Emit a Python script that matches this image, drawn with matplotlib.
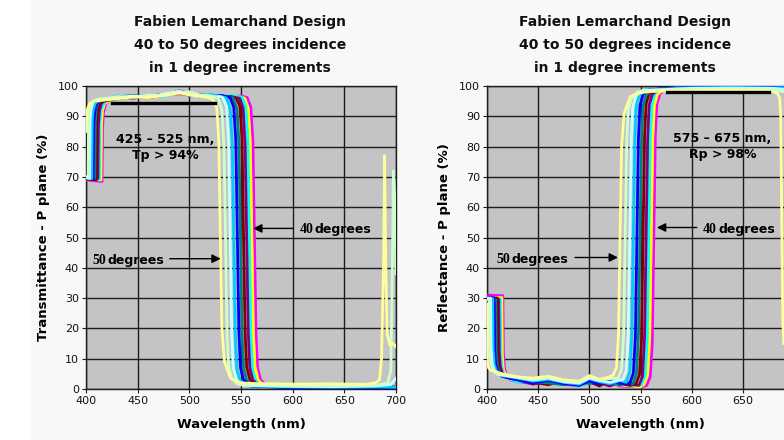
import matplotlib.pyplot as plt
from matplotlib.patches import Rectangle

# ----------------------------- data -----------------------------
angles = [40, 41, 42, 43, 44, 45, 46, 47, 48, 49, 50]
colors = ['#ff00ff', '#ffff00', '#00ffff', '#800080', '#800000', '#008080',
          '#0000ff', '#00ccff', '#ccffff', '#ccffcc', '#ffff99']

# transmittance, P plane (%)
t40_nm = [400, 415.5, 416, 417, 419, 423, 430, 445, 460, 475, 490, 500, 510, 520, 530, 540, 550, 556, 559.5, 561.5, 563, 564.5, 566, 569, 575, 600, 640, 680, 700]
t40 = [69.0, 68.5, 86.5, 91.5, 94.0, 95.3, 96.2, 96.6, 96.3, 97.0, 97.4, 97.2, 96.8, 96.5, 96.9, 96.4, 96.7, 96.2, 93.0, 82.0, 50.0, 18.0, 7.0, 3.0, 1.0, 0.6, 0.5, 0.6, 0.5]
t41_nm = [400, 414.5, 415, 416, 418, 422, 430, 445, 460, 475, 490, 500, 510, 520, 530, 540, 550, 553.5, 557, 559, 560.5, 562, 563.5, 566.5, 572.5, 600, 640, 680, 700]
t41 = [69.4, 69.0, 87.5, 92.0, 94.2, 95.0, 96.0, 96.8, 96.0, 96.7, 97.6, 97.0, 97.2, 96.3, 96.6, 96.8, 96.3, 96.0, 92.5, 81.0, 50.0, 19.0, 7.5, 3.0, 1.0, 0.7, 0.6, 0.5, 0.6]
t42_nm = [400, 413, 413.5, 414.5, 416.5, 420.5, 430, 445, 460, 475, 490, 500, 510, 520, 530, 540, 551, 554.5, 556.5, 558, 559.5, 561, 564, 570, 600, 640, 680, 700]
t42 = [69.8, 69.2, 88.0, 92.0, 93.8, 95.2, 96.4, 96.2, 96.9, 96.5, 98.0, 97.4, 96.6, 97.0, 96.5, 96.9, 96.3, 93.5, 83.0, 50.0, 17.0, 6.5, 2.8, 1.0, 0.5, 0.4, 0.5, 0.4]
t43_nm = [400, 411.5, 412, 413, 415, 419, 430, 445, 460, 475, 490, 500, 510, 520, 530, 540, 548.5, 552, 554, 555.5, 557, 558.5, 561.5, 567.5, 600, 640, 680, 700]
t43 = [70.0, 69.5, 87.0, 91.8, 94.5, 95.6, 96.5, 96.0, 96.6, 97.2, 97.8, 96.9, 97.3, 96.4, 96.8, 96.2, 96.0, 92.8, 80.5, 50.0, 19.0, 7.0, 3.0, 1.0, 0.8, 0.7, 0.6, 0.7]
t44_nm = [400, 410, 410.5, 411.5, 413.5, 417.5, 430, 445, 460, 475, 490, 500, 510, 520, 530, 540, 545.5, 549, 551, 552.5, 554, 555.5, 558.5, 564.5, 600, 640, 680, 700]
t44 = [69.3, 69.0, 88.5, 92.3, 94.0, 95.0, 95.8, 96.6, 96.1, 96.9, 97.9, 97.5, 96.7, 96.9, 96.3, 96.6, 96.0, 93.2, 82.5, 50.0, 18.5, 7.2, 3.2, 1.1, 0.6, 0.5, 0.6, 0.5]
t45_nm = [400, 408.5, 409, 410, 412, 416, 430, 445, 460, 475, 490, 500, 510, 520, 530, 540, 542.5, 546, 548, 549.5, 551, 552.5, 555.5, 561.5, 600, 640, 680, 700]
t45 = [70.2, 69.6, 87.8, 92.5, 94.6, 95.4, 96.3, 96.9, 96.4, 97.3, 98.2, 97.1, 97.0, 96.5, 96.8, 96.4, 96.0, 92.6, 81.5, 50.0, 18.0, 6.8, 2.9, 0.9, 0.5, 0.6, 0.5, 0.6]
t46_nm = [400, 407, 407.5, 408.5, 410.5, 414.5, 430, 445, 460, 475, 490, 500, 510, 520, 530, 539.5, 543, 545, 546.5, 548, 549.5, 552.5, 558.5, 600, 640, 680, 700]
t46 = [69.6, 69.2, 88.0, 91.6, 94.2, 95.5, 96.1, 96.4, 96.8, 97.0, 98.4, 97.6, 96.8, 96.7, 96.9, 96.2, 93.0, 82.0, 50.0, 18.5, 7.0, 3.0, 1.0, 0.4, 0.3, 0.4, 0.3]
t47_nm = [400, 405.5, 406, 407, 409, 413, 430, 445, 460, 475, 490, 500, 510, 520, 530, 536, 539.5, 541.5, 543, 544.5, 546, 549, 555, 600, 640, 680, 700]
t47 = [70.0, 69.4, 88.5, 92.2, 94.4, 95.2, 96.7, 96.3, 96.5, 97.1, 98.0, 97.8, 96.9, 97.2, 96.6, 96.0, 92.4, 81.0, 50.0, 17.5, 6.5, 2.8, 1.0, 0.7, 0.6, 0.7, 0.6]
t48_nm = [400, 403.5, 404, 405, 407, 411, 430, 445, 460, 475, 490, 500, 510, 520, 530, 532.5, 536, 538, 539.5, 541, 542.5, 545.5, 551.5, 600, 640, 680, 695, 700]
t48 = [69.8, 69.5, 89.0, 92.6, 94.8, 95.6, 96.0, 96.7, 96.2, 97.4, 98.3, 97.3, 97.1, 96.4, 96.5, 96.1, 93.2, 82.0, 50.0, 18.0, 7.0, 3.0, 1.2, 0.9, 0.8, 1.0, 1.5, 3.5]
t49_nm = [400, 402, 402.5, 403.5, 405.5, 409.5, 430, 445, 460, 475, 490, 500, 510, 520, 528, 531.5, 533.5, 535, 536.5, 538, 541, 547, 600, 640, 680, 692, 695, 696.5, 697.5, 699, 700]
t49 = [70.0, 69.6, 89.5, 93.0, 94.6, 95.4, 96.5, 96.3, 97.0, 96.8, 97.9, 98.1, 97.0, 96.8, 96.0, 92.0, 80.0, 50.0, 18.0, 7.5, 3.5, 1.5, 1.0, 1.1, 1.2, 2.0, 6.0, 40.0, 72.0, 62.0, 38.0]
t50_nm = [400, 400.5, 401.5, 403.5, 407.5, 430, 445, 460, 475, 490, 500, 510, 518, 523, 526.5, 528.5, 530, 531.5, 534, 540, 550, 565, 600, 640, 670, 680, 684, 686, 688, 689, 690, 691.5, 694, 697, 700]
t50 = [85.0, 88.0, 92.5, 94.2, 95.0, 95.8, 96.4, 96.2, 96.8, 97.8, 97.0, 96.6, 96.2, 95.5, 93.0, 82.0, 50.0, 20.0, 9.0, 3.5, 2.0, 1.8, 1.6, 1.7, 1.5, 2.0, 3.0, 10.0, 42.0, 77.0, 42.0, 18.0, 14.5, 15.0, 14.0]

# reflectance, P plane (%)
r40_nm = [400, 415.5, 416, 417, 419, 423, 430, 445, 460, 475, 490, 500, 510, 520, 530, 540, 550, 556, 559.5, 561.5, 563, 564.5, 566, 569, 575, 600, 640, 680, 700]
r40 = [31.0, 30.8, 12.0, 7.0, 4.5, 3.0, 2.4, 1.8, 2.6, 1.5, 1.2, 2.0, 1.6, 2.4, 1.0, 0.8, 0.6, 1.2, 4.0, 15.0, 50.0, 84.0, 94.0, 97.5, 99.2, 99.6, 99.7, 99.6, 99.7]
r41_nm = [400, 414.5, 415, 416, 418, 422, 430, 445, 460, 475, 490, 500, 510, 520, 530, 540, 550, 553.5, 557, 559, 560.5, 562, 563.5, 566.5, 572.5, 600, 640, 680, 700]
r41 = [30.0, 30.2, 11.0, 6.5, 4.8, 3.4, 2.8, 2.0, 3.0, 1.8, 1.5, 2.6, 1.2, 2.2, 1.4, 1.0, 0.7, 1.5, 5.0, 17.0, 50.0, 82.0, 93.5, 97.2, 99.0, 99.5, 99.6, 99.5, 99.6]
r42_nm = [400, 413, 413.5, 414.5, 416.5, 420.5, 430, 445, 460, 475, 490, 500, 510, 520, 530, 540, 551, 554.5, 556.5, 558, 559.5, 561, 564, 570, 600, 640, 680, 700]
r42 = [30.0, 29.8, 11.5, 7.2, 5.0, 3.6, 2.2, 2.6, 1.6, 2.4, 1.0, 2.2, 2.8, 1.4, 2.0, 1.1, 1.4, 4.5, 16.0, 50.0, 83.0, 94.0, 97.5, 99.0, 99.6, 99.5, 99.6, 99.5]
r43_nm = [400, 411.5, 412, 413, 415, 419, 430, 445, 460, 475, 490, 500, 510, 520, 530, 540, 548.5, 552, 554, 555.5, 557, 558.5, 561.5, 567.5, 600, 640, 680, 700]
r43 = [29.5, 29.6, 12.5, 7.5, 5.2, 3.8, 3.0, 1.6, 2.8, 2.0, 1.3, 3.0, 2.0, 1.0, 2.4, 1.6, 1.2, 4.2, 17.5, 50.0, 82.5, 93.8, 97.2, 99.0, 99.4, 99.5, 99.4, 99.5]
r44_nm = [400, 410, 410.5, 411.5, 413.5, 417.5, 430, 445, 460, 475, 490, 500, 510, 520, 530, 540, 545.5, 549, 551, 552.5, 554, 555.5, 558.5, 564.5, 600, 640, 680, 700]
r44 = [30.2, 30.0, 12.0, 7.0, 5.5, 4.0, 3.2, 2.2, 1.4, 2.8, 1.6, 2.4, 1.0, 3.0, 1.8, 1.2, 1.6, 4.8, 16.5, 50.0, 83.5, 94.2, 97.4, 98.9, 99.5, 99.6, 99.5, 99.6]
r45_nm = [400, 408.5, 409, 410, 412, 416, 430, 445, 460, 475, 490, 500, 510, 520, 530, 540, 542.5, 546, 548, 549.5, 551, 552.5, 555.5, 561.5, 600, 640, 680, 700]
r45 = [29.8, 29.5, 12.2, 7.6, 5.4, 4.2, 3.4, 2.4, 2.0, 1.4, 2.6, 1.8, 3.2, 2.0, 1.4, 2.2, 1.6, 5.0, 18.0, 50.0, 82.0, 93.5, 97.0, 98.8, 99.4, 99.5, 99.4, 99.5]
r46_nm = [400, 407, 407.5, 408.5, 410.5, 414.5, 430, 445, 460, 475, 490, 500, 510, 520, 530, 539.5, 543, 545, 546.5, 548, 549.5, 552.5, 558.5, 600, 640, 680, 700]
r46 = [30.4, 30.0, 12.8, 8.0, 5.6, 4.2, 3.0, 2.0, 2.8, 1.8, 1.2, 2.6, 1.6, 3.2, 1.8, 1.8, 5.2, 17.0, 50.0, 82.5, 93.6, 97.2, 98.8, 99.5, 99.6, 99.5, 99.6]
r47_nm = [400, 405.5, 406, 407, 409, 413, 430, 445, 460, 475, 490, 500, 510, 520, 530, 536, 539.5, 541.5, 543, 544.5, 546, 549, 555, 600, 640, 680, 700]
r47 = [30.0, 29.8, 13.0, 8.2, 6.0, 4.5, 3.6, 2.6, 3.2, 2.2, 1.6, 3.4, 2.4, 1.8, 2.8, 2.2, 5.5, 18.0, 50.0, 83.0, 93.8, 97.0, 98.7, 99.4, 99.5, 99.4, 99.5]
r48_nm = [400, 403.5, 404, 405, 407, 411, 430, 445, 460, 475, 490, 500, 510, 520, 530, 532.5, 536, 538, 539.5, 541, 542.5, 545.5, 551.5, 600, 640, 680, 700]
r48 = [30.0, 30.0, 13.5, 8.5, 6.2, 4.8, 3.8, 3.0, 3.6, 2.4, 2.0, 3.6, 2.8, 2.2, 3.0, 3.0, 6.0, 17.5, 50.0, 82.0, 93.0, 96.8, 98.5, 99.2, 99.3, 99.2, 98.5]
r49_nm = [400, 402, 402.5, 403.5, 405.5, 409.5, 430, 445, 460, 475, 490, 500, 510, 520, 528, 531.5, 533.5, 535, 536.5, 538, 541, 547, 600, 640, 680, 692, 700]
r49 = [29.6, 29.8, 14.0, 9.0, 6.6, 5.0, 4.0, 3.2, 3.8, 2.8, 2.4, 4.0, 3.0, 3.4, 3.6, 6.5, 18.0, 50.0, 81.0, 92.0, 96.0, 98.0, 98.8, 98.9, 98.7, 98.0, 62.0]
r50_nm = [400, 400.5, 401.5, 403.5, 407.5, 415, 430, 445, 460, 475, 490, 500, 510, 518, 523, 526.5, 528.5, 530, 531.5, 534, 540, 550, 565, 600, 640, 670, 680, 684, 686, 687, 688, 689, 690]
r50 = [28.0, 9.0, 7.0, 6.2, 5.8, 5.0, 4.0, 3.6, 4.2, 3.0, 2.6, 4.4, 3.2, 3.8, 4.5, 7.0, 18.0, 50.0, 80.0, 91.0, 96.5, 97.8, 98.4, 98.5, 98.6, 98.5, 98.2, 97.5, 96.0, 90.0, 58.0, 23.0, 15.0]

# spec bars
band_t_nm = [425, 525]
band_t = [94.5, 94.5]
band_r_nm = [576, 676]
band_r = [98, 98]

t_nm = [t40_nm, t41_nm, t42_nm, t43_nm, t44_nm, t45_nm, t46_nm, t47_nm, t48_nm, t49_nm, t50_nm]
t_val = [t40, t41, t42, t43, t44, t45, t46, t47, t48, t49, t50]
r_nm = [r40_nm, r41_nm, r42_nm, r43_nm, r44_nm, r45_nm, r46_nm, r47_nm, r48_nm, r49_nm, r50_nm]
r_val = [r40, r41, r42, r43, r44, r45, r46, r47, r48, r49, r50]

title_lines = ['Fabien Lemarchand Design', '40 to 50 degrees incidence', 'in 1 degree increments']

# ----------------------------- figure -----------------------------
W, H = 784, 440
fig = plt.figure(figsize=(W / 100, H / 100), dpi=100)
fig.patches.append(Rectangle((31 / W, 0), 1, 1, transform=fig.transFigure,
                             color='#f8f8f8', zorder=-10))

grid_c = '#1c1c1c'


def setup(ax, ylabel, xmax_label):
    ax.set_facecolor('#c4c3c5')
    ax.set_xlim(400, 700)
    ax.set_ylim(0, 100)
    ax.set_xticks(range(400, xmax_label + 1, 50))
    ax.set_yticks(range(0, 101, 10))
    ax.grid(True, color=grid_c, lw=1.0)
    ax.set_axisbelow(True)
    for s in ax.spines.values():
        s.set_color(grid_c)
        s.set_linewidth(1.0)
    ax.tick_params(length=3, width=0.8, color=grid_c, labelsize=8, labelcolor='#111', pad=2)
    ax.set_xlabel('Wavelength (nm)', fontsize=9.5, fontweight='bold', labelpad=9)
    ax.set_ylabel(ylabel, fontsize=9.5, fontweight='bold', labelpad=6)


def deg_label(ax, x_num, x_word, y, num):
    ax.text(x_num, y, num, family='Liberation Serif', fontweight='bold', fontsize=10,
            va='center', ha='left', zorder=6)
    ax.text(x_word, y, 'degrees', fontweight='bold', fontsize=9,
            va='center', ha='left', zorder=6)


arrow = dict(arrowstyle='-|>', lw=1.0, color='black', mutation_scale=13, shrinkA=0, shrinkB=0)

# left: transmittance
ax1 = fig.add_axes([86 / W, 51 / H, 310 / W, 303 / H])
setup(ax1, 'Transmittance - P plane (%)', 700)
for nm, v, c in zip(t_nm, t_val, colors):
    ax1.plot(nm, v, color=c, lw=2.0, zorder=3)
ax1.plot(band_t_nm, band_t, color='black', lw=2.4, zorder=4)
ax1.text(476.5, 82.2, '425 – 525 nm,', fontsize=9, fontweight='bold', ha='center', va='center', zorder=6)
ax1.text(476.5, 77.0, 'Tp > 94%', fontsize=9, fontweight='bold', ha='center', va='center', zorder=6)
ax1.annotate('', xy=(561.7, 53), xytext=(600.5, 53), arrowprops=arrow, zorder=6)
deg_label(ax1, 607, 621.5, 52.5, '40')
ax1.annotate('', xy=(530.4, 43), xytext=(481, 43), arrowprops=arrow, zorder=6)
deg_label(ax1, 406.5, 421, 42.5, '50')

# right: reflectance (plot area runs past the right edge of the picture)
ax2 = fig.add_axes([487 / W, 51 / H, 307 / W, 303 / H])
setup(ax2, 'Reflectance - P plane (%)', 650)
ax2.axvline(700, color=grid_c, lw=1.0, zorder=0.5)
for nm, v, c in zip(r_nm, r_val, colors):
    ax2.plot(nm, v, color=c, lw=2.0, zorder=3)
ax2.plot(band_r_nm, band_r, color='black', lw=2.4, zorder=4)
ax2.text(629.5, 82.8, '575 – 675 nm,', fontsize=9, fontweight='bold', ha='center', va='center', zorder=6)
ax2.text(630, 77.4, 'Rp > 98%', fontsize=9, fontweight='bold', ha='center', va='center', zorder=6)
ax2.annotate('', xy=(566, 53.3), xytext=(605, 53.3), arrowprops=arrow, zorder=6)
deg_label(ax2, 611, 626, 52.8, '40')
ax2.annotate('', xy=(528, 43.4), xytext=(486, 43.4), arrowprops=arrow, zorder=6)
deg_label(ax2, 409.5, 424, 42.8, '50')

# titles
for cx in (240, 625):
    for i, line in enumerate(title_lines):
        fig.text(cx / W, 1 - (22 + 23 * i) / H, line, fontsize=10, fontweight='bold',
                 ha='center', va='center', color='#111')

fig.savefig('out.png', dpi=100)
